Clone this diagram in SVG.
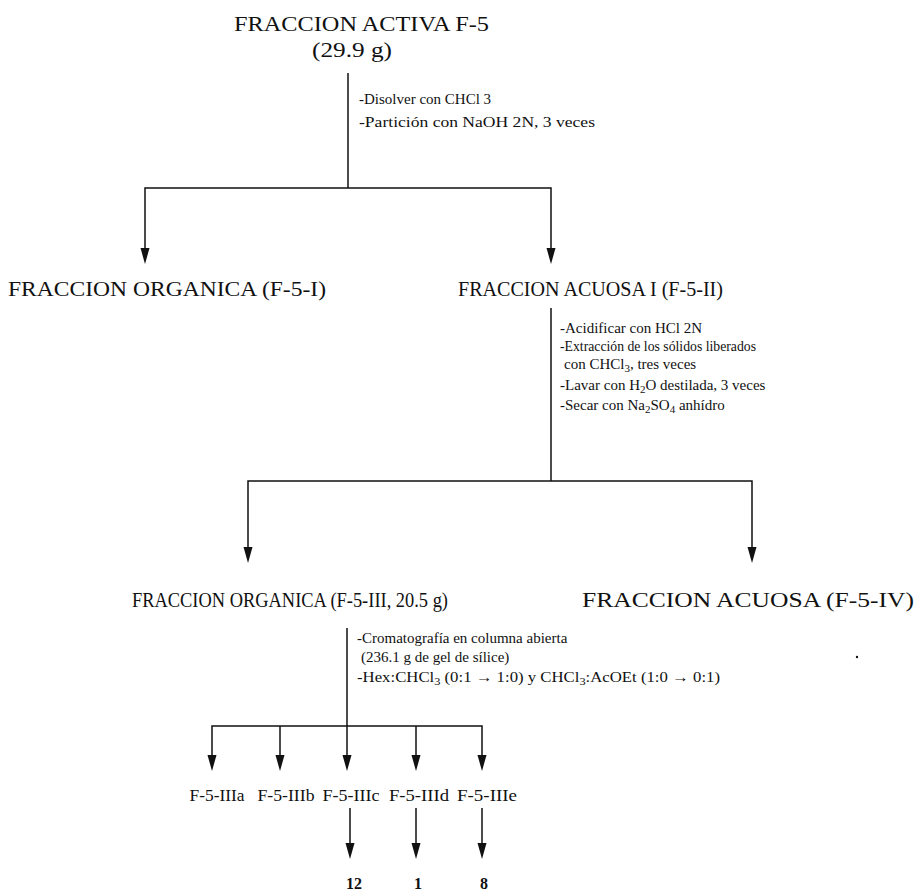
<svg xmlns="http://www.w3.org/2000/svg" width="916" height="895" viewBox="0 0 916 895">
  <style>
    .big { font-family: "Liberation Serif", "Times New Roman", serif; font-size: 22px; fill: #111; }
    .note { font-family: "Liberation Serif", "Times New Roman", serif; font-size: 15px; fill: #111; }
    .sub { font-size: 11px; }
    .frac { font-family: "Liberation Serif", "Times New Roman", serif; font-size: 16px; fill: #111; }
    .num { font-family: "Liberation Serif", "Times New Roman", serif; font-size: 16px; font-weight: bold; fill: #111; }
    .ln { stroke: #111; stroke-width: 1.5; fill: none; }
    .head { fill: #111; }
  </style>
  <rect width="916" height="895" fill="#fff"/>

  <!-- connectors: elbow lines with filled triangular heads -->
  <g id="connectors">
    <!-- F-5 split -->
    <line class="ln" x1="348" y1="73" x2="348" y2="188"/>
    <polyline class="ln" points="145,255 145,188 551,188 551,255"/>
    <path class="head" d="M140.5,248 L149.5,248 L145,264 Z"/>
    <path class="head" d="M546.5,248 L555.5,248 L551,264 Z"/>
    <!-- acuosa I split -->
    <line class="ln" x1="551" y1="308" x2="551" y2="481"/>
    <polyline class="ln" points="248,555 248,481 752,481 752,555"/>
    <path class="head" d="M243.5,547 L252.5,547 L248,563 Z"/>
    <path class="head" d="M747.5,547 L756.5,547 L752,563 Z"/>
    <!-- column chromatography -->
    <line class="ln" x1="347" y1="628" x2="347" y2="726"/>
    <polyline class="ln" points="212,762 212,726 482,726 482,762"/>
    <line class="ln" x1="280" y1="726" x2="280" y2="762"/>
    <line class="ln" x1="347" y1="726" x2="347" y2="762"/>
    <line class="ln" x1="416" y1="726" x2="416" y2="762"/>
    <path class="head" d="M207.5,755 L216.5,755 L212,771 Z"/>
    <path class="head" d="M275.5,755 L284.5,755 L280,771 Z"/>
    <path class="head" d="M342.5,755 L351.5,755 L347,771 Z"/>
    <path class="head" d="M411.5,755 L420.5,755 L416,771 Z"/>
    <path class="head" d="M477.5,755 L486.5,755 L482,771 Z"/>
    <!-- sub-fractions to compounds -->
    <line class="ln" x1="350" y1="808" x2="350" y2="850"/>
    <line class="ln" x1="416" y1="808" x2="416" y2="850"/>
    <line class="ln" x1="482" y1="808" x2="482" y2="850"/>
    <path class="head" d="M345.5,843 L354.5,843 L350,859 Z"/>
    <path class="head" d="M411.5,843 L420.5,843 L416,859 Z"/>
    <path class="head" d="M477.5,843 L486.5,843 L482,859 Z"/>
  </g>

  <g id="f5">
    <text class="big" x="234" y="31" font-size="23" textLength="255" lengthAdjust="spacingAndGlyphs">FRACCION ACTIVA F-5</text>
    <text class="big" x="312" y="57" font-size="24" textLength="80" lengthAdjust="spacingAndGlyphs">(29.9 g)</text>
  </g>
  <g id="step1">
    <text class="note" x="359" y="104" font-size="15.5">-Disolver con CHCl 3</text>
    <text class="note" x="359" y="127" font-size="15.5" textLength="236" lengthAdjust="spacingAndGlyphs">-Partición con NaOH 2N, 3 veces</text>
  </g>
  <g id="f5-i">
    <text class="big" x="8" y="296" font-size="23" textLength="318" lengthAdjust="spacingAndGlyphs">FRACCION ORGANICA (F-5-I)</text>
  </g>
  <g id="f5-ii">
    <text class="big" x="458" y="296" font-size="21" textLength="265" lengthAdjust="spacingAndGlyphs">FRACCION ACUOSA I (F-5-II)</text>
  </g>
  <g id="step2">
    <text class="note" x="560" y="333">-Acidificar con HCl 2N</text>
    <text class="note" x="560" y="351" textLength="196" lengthAdjust="spacingAndGlyphs">-Extracción de los sólidos liberados</text>
    <text class="note" x="564" y="369">con CHCl<tspan class="sub" dy="3">3</tspan><tspan dy="-3">, tres veces</tspan></text>
    <text class="note" x="560" y="390">-Lavar con H<tspan class="sub" dy="3">2</tspan><tspan dy="-3">O destilada, 3 veces</tspan></text>
    <text class="note" x="560" y="410">-Secar con Na<tspan class="sub" dy="3">2</tspan><tspan dy="-3">SO</tspan><tspan class="sub" dy="3">4</tspan><tspan dy="-3"> anhídro</tspan></text>
  </g>
  <g id="f5-iii">
    <text class="big" x="132" y="607" font-size="20" textLength="316" lengthAdjust="spacingAndGlyphs">FRACCION ORGANICA (F-5-III, 20.5 g)</text>
  </g>
  <g id="f5-iv">
    <text class="big" x="582" y="607" font-size="23" textLength="332" lengthAdjust="spacingAndGlyphs">FRACCION ACUOSA (F-5-IV)</text>
  </g>
  <g id="step3">
    <text class="note" x="357" y="643">-Cromatografía en columna abierta</text>
    <text class="note" x="361" y="662">(236.1 g de gel de sílice)</text>
    <text class="note" x="357" y="682" textLength="363" lengthAdjust="spacingAndGlyphs">-Hex:CHCl<tspan class="sub" dy="3">3</tspan><tspan dy="-3"> (0:1 → 1:0) y CHCl</tspan><tspan class="sub" dy="3">3</tspan><tspan dy="-3">:AcOEt (1:0 → 0:1)</tspan></text>
  </g>
  <!-- small ink speck -->
  <circle cx="857" cy="657" r="1.2" fill="#111"/>

  <g id="f5-iiia"><text class="frac" x="217" y="801" text-anchor="middle" textLength="55" lengthAdjust="spacingAndGlyphs">F-5-IIIa</text></g>
  <g id="f5-iiib"><text class="frac" x="286" y="801" text-anchor="middle" textLength="57" lengthAdjust="spacingAndGlyphs">F-5-IIIb</text></g>
  <g id="f5-iiic"><text class="frac" x="351" y="801" text-anchor="middle" textLength="57" lengthAdjust="spacingAndGlyphs">F-5-IIIc</text></g>
  <g id="f5-iiid"><text class="frac" x="419" y="801" text-anchor="middle" textLength="60" lengthAdjust="spacingAndGlyphs">F-5-IIId</text></g>
  <g id="f5-iiie"><text class="frac" x="487" y="801" text-anchor="middle" textLength="60" lengthAdjust="spacingAndGlyphs">F-5-IIIe</text></g>

  <g id="c12"><text class="num" x="354" y="889" text-anchor="middle">12</text></g>
  <g id="c1"><text class="num" x="418" y="889" text-anchor="middle">1</text></g>
  <g id="c8"><text class="num" x="484" y="889" text-anchor="middle">8</text></g>
</svg>
